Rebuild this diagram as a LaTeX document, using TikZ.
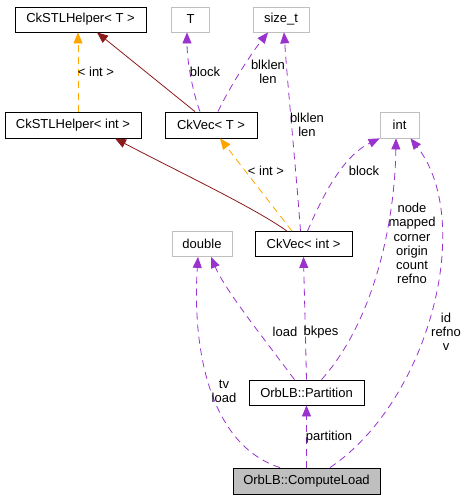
\documentclass[tikz,border=0pt]{standalone}
\usepackage{fontspec}
\setmainfont{Liberation Sans}
\usetikzlibrary{arrows.meta}
\definecolor{edgepurple}{HTML}{9A32CD}
\definecolor{edgeorange}{HTML}{FFA500}
\definecolor{edgered}{HTML}{8B1A1A}
\definecolor{boxgray}{HTML}{BFBFBF}
\newcommand{\lblfont}{\fontsize{13}{14.2}\selectfont}
\begin{document}
\begin{tikzpicture}[x=1pt,y=-1pt,
  cls/.style={draw=black, line width=0.8pt, minimum height=25pt, inner sep=0pt, font=\lblfont},
  ext/.style={cls, draw=boxgray},
  tip/.style={-{Triangle[length=11pt,width=9pt]}},
  dep/.style={tip, draw=edgepurple, fill=none, line width=0.8pt, dash pattern=on 7pt off 5pt},
  tmpl/.style={dep, draw=edgeorange},
  inh/.style={tip, draw=edgered, line width=0.8pt},
  lab/.style={font=\lblfont, align=center, inner sep=0pt}]
\useasboundingbox (0,0) rectangle (465,499);
% nodes
\node[cls, minimum width=131pt] (stlT) at (80.5,19.5) {CkSTLHelper< T >};
\node[ext, minimum width=38pt] (T) at (190.5,19.5) {T};
\node[ext, minimum width=56pt] (sizet) at (281,19.5) {size\_t};
\node[cls, minimum width=136pt, minimum height=26pt] (stlint) at (73,125) {CkSTLHelper< int >};
\node[cls, minimum width=92pt, minimum height=26pt] (ckvecT) at (211,125) {CkVec< T >};
\node[ext, minimum width=39pt, minimum height=26pt] (int) at (399.5,125) {int};
\node[ext, minimum width=60pt] (double) at (202,244) {double};
\node[cls, minimum width=97pt] (ckvecint) at (303.5,244) {CkVec< int >};
\node[cls, minimum width=115pt] (partition) at (306.5,392.5) {OrbLB::Partition};
\node[cls, minimum width=147pt, minimum height=26pt, fill=boxgray] (compute) at (306.5,481) {OrbLB::ComputeLoad};
% edges
\draw[tmpl] ([xshift=5pt]stlint.north) -- ([xshift=-2.5pt]stlT.south);
\node[lab] (l1) at (96,72) {< int >};
\draw[inh] ([xshift=-16pt]ckvecT.north) -- ([xshift=16.5pt]stlT.south);
\draw[dep] ([xshift=-11pt]ckvecT.north) .. controls (192,90) and (187,60) .. ([xshift=-3.5pt]T.south);
\node[lab] (l2) at (205,72) {block};
\draw[dep] ([xshift=7pt]ckvecT.north) .. controls (228,90) and (250,55) .. ([xshift=-13pt]sizet.south);
\node[lab] (l3) at (268,72) {blklen\\len};
\draw[inh] ([xshift=-16.5pt]ckvecint.north) .. controls (255,208) and (175,170) .. ([xshift=42pt]stlint.south);
\draw[tmpl] ([xshift=-11.5pt]ckvecint.north) -- ([xshift=9pt]ckvecT.south);
\node[lab] (l4) at (266,171) {< int >};
\draw[dep] ([xshift=-3pt]ckvecint.north) .. controls (296,170) and (288,90) .. ([xshift=3pt]sizet.south);
\node[lab] (l5) at (307,125) {blklen\\len};
\draw[dep] ([xshift=4pt]ckvecint.north) .. controls (325,190) and (345,155) .. (int.south west);
\node[lab] (l6) at (364,171) {block};
\draw[dep] (partition.north) -- (ckvecint.south);
\node[lab] (l7) at (285,332) {load};
\node[lab] (l8) at (321,332) {bkpes};
\draw[dep] ([xshift=-12pt]partition.north) .. controls (265,340) and (225,290) .. ([xshift=9pt]double.south);
\draw[dep] ([xshift=15pt]partition.north) .. controls (375,320) and (395,220) .. ([xshift=-3.5pt]int.south);
\node[lab] (l9) at (412,243.5) {node\\mapped\\corner\\origin\\count\\refno};
\draw[dep] (compute.north) -- (partition.south);
\node[lab] (l10) at (329,437) {partition};
\draw[dep] ([xshift=-26.5pt]compute.north) .. controls (210,445) and (192,350) .. ([xshift=-4pt]double.south);
\node[lab] (l11) at (224,391) {tv\\load};
\draw[dep] ([xshift=23.5pt]compute.north) .. controls (430,400) and (475,220) .. ([xshift=11pt]int.south);
\node[lab] (l12) at (446,332) {id\\refno\\v};
\end{tikzpicture}
\end{document}
